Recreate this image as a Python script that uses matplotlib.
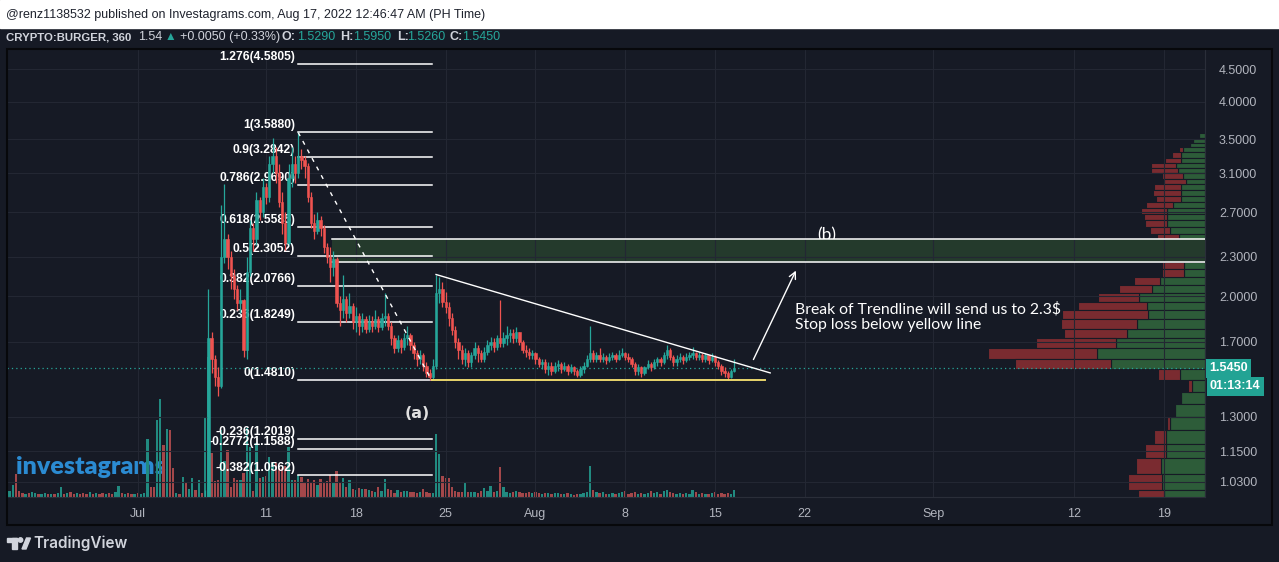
"""
plot.py - CRYPTO:BURGER 6h chart (TradingView style) with fib levels,
volume, visible-range volume profile and trade idea annotations.
"""

import numpy as np
import matplotlib
matplotlib.use("Agg")
import matplotlib.pyplot as plt
from matplotlib import transforms
from matplotlib.patches import Rectangle, Circle, Polygon
from matplotlib.ticker import NullLocator


# ──────────────────────────────────────────────
# Data (time axis = days since Jul 1, 6h candles)
# ──────────────────────────────────────────────
price_start = 5.25
first_open = 0.93
closes = [0.96, 1.72, 1.60, 1.50, 1.45, 2.30, 2.45, 2.30, 2.15, 2.05,
          1.95, 1.97, 1.65, 2.18, 2.55, 2.45, 2.82, 2.70, 2.95, 2.85,
          3.20, 3.30, 3.10, 2.80, 2.60, 2.42, 3.05, 3.20, 3.10, 3.30,
          3.25, 3.18, 2.85, 2.60, 2.52, 2.62, 2.55, 2.38, 2.30, 2.22,
          2.28, 1.95, 1.90, 1.98, 1.88, 1.93, 1.82, 1.86, 1.80, 1.84,
          1.78, 1.83, 1.80, 1.84, 1.79, 1.85, 1.86, 1.80, 1.72, 1.66,
          1.71, 1.67, 1.72, 1.74, 1.68, 1.63, 1.60, 1.62, 1.56, 1.52,
          1.50, 1.56, 2.02, 2.05, 1.96, 1.92, 1.85, 1.77, 1.70, 1.65,
          1.60, 1.63, 1.58, 1.62, 1.66, 1.63, 1.60, 1.64, 1.68, 1.70,
          1.67, 1.72, 1.69, 1.72, 1.74, 1.75, 1.72, 1.76, 1.70, 1.65,
          1.64, 1.62, 1.63, 1.60, 1.57, 1.58, 1.54, 1.56, 1.53, 1.56,
          1.57, 1.54, 1.56, 1.53, 1.55, 1.53, 1.51, 1.54, 1.56, 1.60,
          1.63, 1.60, 1.62, 1.60, 1.61, 1.59, 1.61, 1.62, 1.60, 1.62,
          1.63, 1.61, 1.60, 1.57, 1.53, 1.55, 1.52, 1.55, 1.57, 1.55,
          1.58, 1.60, 1.58, 1.62, 1.65, 1.61, 1.58, 1.60, 1.61, 1.59,
          1.61, 1.62, 1.63, 1.61, 1.62, 1.60, 1.62, 1.59, 1.61, 1.58,
          1.56, 1.53, 1.52, 1.50, 1.529, 1.545]
highs = [1.00, 2.05, 1.76, 1.62, 1.55, 2.77, 2.98, 2.50, 2.35, 2.20,
         2.08, 2.05, 1.98, 2.30, 2.62, 2.60, 2.90, 2.85, 3.05, 3.00,
         3.30, 3.52, 3.40, 3.20, 2.90, 2.70, 3.20, 3.40, 3.30, 3.588,
         3.38, 3.30, 3.22, 2.90, 2.68, 2.70, 2.66, 2.58, 2.42, 2.38,
         2.35, 2.30, 2.00, 2.16, 2.00, 2.02, 1.95, 1.92, 1.88, 1.88,
         1.86, 1.87, 1.86, 1.90, 1.86, 1.88, 2.02, 1.88, 1.82, 1.74,
         1.74, 1.72, 1.75, 1.80, 1.75, 1.70, 1.65, 1.65, 1.63, 1.58,
         1.54, 1.60, 2.16, 2.14, 2.10, 2.03, 1.96, 1.88, 1.80, 1.72,
         1.68, 1.66, 1.65, 1.64, 1.70, 1.68, 1.65, 1.67, 1.71, 1.73,
         1.72, 1.74, 1.97, 1.76, 1.80, 1.78, 1.78, 1.79, 1.76, 1.71,
         1.68, 1.66, 1.65, 1.64, 1.61, 1.60, 1.60, 1.58, 1.58, 1.58,
         1.59, 1.58, 1.58, 1.57, 1.57, 1.56, 1.54, 1.56, 1.58, 1.62,
         1.80, 1.65, 1.64, 1.66, 1.63, 1.62, 1.63, 1.64, 1.63, 1.65,
         1.66, 1.64, 1.63, 1.61, 1.58, 1.57, 1.56, 1.56, 1.59, 1.58,
         1.60, 1.61, 1.61, 1.64, 1.68, 1.66, 1.62, 1.62, 1.63, 1.62,
         1.63, 1.64, 1.67, 1.64, 1.64, 1.63, 1.63, 1.62, 1.63, 1.62,
         1.59, 1.57, 1.55, 1.53, 1.54, 1.595]
lows = [0.90, 0.95, 1.52, 1.45, 1.40, 1.44, 2.25, 2.20, 2.05, 1.98,
        1.90, 1.88, 1.61, 1.60, 2.15, 2.35, 2.40, 2.62, 2.65, 2.78,
        2.80, 3.10, 3.00, 2.75, 2.50, 2.36, 2.40, 2.95, 3.00, 3.05,
        3.15, 3.05, 2.80, 2.55, 2.45, 2.50, 2.48, 2.33, 2.25, 2.10,
        2.15, 1.92, 1.80, 1.85, 1.82, 1.85, 1.78, 1.76, 1.74, 1.76,
        1.75, 1.76, 1.76, 1.78, 1.76, 1.77, 1.80, 1.77, 1.68, 1.63,
        1.64, 1.63, 1.65, 1.68, 1.65, 1.60, 1.56, 1.57, 1.53, 1.50,
        1.481, 1.481, 1.54, 1.95, 1.92, 1.88, 1.80, 1.74, 1.66, 1.60,
        1.57, 1.56, 1.55, 1.55, 1.60, 1.58, 1.58, 1.58, 1.62, 1.65,
        1.64, 1.65, 1.67, 1.67, 1.68, 1.70, 1.69, 1.70, 1.68, 1.63,
        1.61, 1.60, 1.60, 1.57, 1.55, 1.54, 1.52, 1.51, 1.51, 1.52,
        1.53, 1.52, 1.53, 1.51, 1.52, 1.51, 1.50, 1.50, 1.52, 1.55,
        1.58, 1.58, 1.58, 1.58, 1.58, 1.57, 1.58, 1.59, 1.58, 1.59,
        1.61, 1.59, 1.58, 1.55, 1.51, 1.51, 1.50, 1.51, 1.54, 1.53,
        1.54, 1.56, 1.56, 1.57, 1.60, 1.59, 1.56, 1.56, 1.58, 1.57,
        1.58, 1.59, 1.60, 1.59, 1.59, 1.58, 1.58, 1.57, 1.58, 1.56,
        1.54, 1.51, 1.50, 1.48, 1.49, 1.526]

vol_start = -10.25
volume = [4, 6, 12, 23, 6, 4, 3, 4, 5, 4,
          3, 3, 4, 3, 3, 3, 4, 10, 3, 4,
          5, 3, 4, 3, 4, 3, 5, 3, 4, 3,
          4, 3, 4, 3, 5, 11, 4, 3, 4, 3,
          3, 4, 3, 4, 58, 10, 10, 77, 98, 52,
          68, 67, 29, 4, 3, 20, 14, 8, 19, 7,
          17, 4,
          80, 140, 44, 16, 17, 67, 36, 47, 10, 19,
          17, 17, 24, 69, 50, 6, 54, 19, 20, 21,
          40, 34, 34, 29, 29, 31, 50, 17, 17, 22,
          20, 15, 18, 14, 17, 12, 18, 14, 16, 22,
          15, 26, 14, 19, 10, 17, 8, 7, 9, 8,
          8, 7, 6, 5, 10, 6, 18, 8, 7, 4,
          7, 5, 6, 6, 5, 5, 4, 5, 8, 5,
          4, 4, 63, 43, 21, 19, 19, 10, 6, 5,
          5, 15, 5, 5, 5, 4, 6, 9, 6, 11,
          5, 6, 30, 10, 5, 4, 5, 6, 5, 4,
          4, 5, 4, 5, 4, 3, 4, 4, 3, 4,
          4, 3, 3, 4, 3, 2, 3, 3, 4, 5,
          31, 7, 5, 4, 5, 3, 3, 4, 3, 4,
          5, 6, 3, 4, 5, 3, 4, 3, 4, 6,
          4, 5, 3, 6, 7, 5, 4, 3, 4, 3,
          4, 3, 7, 5, 3, 4, 3, 3, 4, 5,
          3, 4, 3, 4, 3, 7]
# direction of the early candles (price below the visible range)
early_up = [1, 1, 1, 0, 0, 0, 1, 0, 1, 1, 0, 1, 1, 0, 1, 0, 1, 1, 0, 1,
            0, 0, 1, 0, 0, 0, 1, 0, 1, 0, 0, 1, 0, 0, 1, 1, 0, 1, 0, 0,
            1, 0, 1, 1, 1, 0, 0, 1, 1, 0, 1, 0, 0, 1, 0, 1, 0, 1, 1, 0,
            1, 0]

# visible range volume profile, rows from the top (3.58) downwards
vp_top = 3.58
vp_step = 0.06
vp_up = [6, 12, 15, 22, 24, 24, 29, 27, 22, 19,
         24, 24, 24, 32, 38, 38, 38, 35, 26, 26,
         29, 24, 21, 21, 45, 53, 66, 58, 57, 68,
         78, 89, 108, 94, 25, 13, 24, 30, 35, 39,
         39, 44, 43, 41]
vp_down = [0, 0, 0, 4, 9, 16, 25, 27, 21, 22,
           27, 28, 25, 27, 26, 23, 22, 20, 22, 26,
           29, 31, 22, 22, 26, 33, 41, 69, 86, 76,
           63, 80, 109, 96, 22, 4, 0, 0, 3, 12,
           21, 25, 34, 26]

# fibonacci retracement
fib_ratios = ["1.276", "1", "0.9", "0.786", "0.618", "0.5", "0.382",
              "0.236", "0", "-0.236", "-0.2772", "-0.382"]
fib_prices = [4.5805, 3.5880, 3.2842, 2.9690, 2.5585, 2.3052, 2.0766,
              1.8249, 1.4810, 1.2019, 1.1588, 1.0562]
fib_days = [12.5, 22.9]

trend_days = [23.25, 49.3]
trend_prices = [2.16, 1.52]
yellow_days = [22.9, 48.9]
yellow_price = 1.481
zone_day = 15.1
zone_prices = [2.26, 2.455]
arrow_days = [47.9, 51.4]
arrow_prices = [1.58, 2.21]

last_price = 1.545
price_ticks = [4.5, 4.0, 3.5, 3.1, 2.7, 2.3, 2.0, 1.7, 1.3, 1.15, 1.03]
date_ticks = [0, 10, 17, 24, 31, 38, 45, 52, 62, 73, 80]
date_labels = ["Jul", "11", "18", "25", "Aug", "8", "15", "22", "Sep", "12", "19"]


# ──────────────────────────────────────────────
# Style
# ──────────────────────────────────────────────
W, H = 1279, 562
BG = "#161a25"
GRID = "#232733"
TEAL = "#26a69a"
RED = "#ef5350"
TEAL_VOL = "#218a80"
RED_VOL = "#a3474a"
VP_GREEN = "#2d5c39"
VP_RED = "#7a2b30"
AXIS_TXT = "#b2b5be"
SANS = ["Liberation Sans", "DejaVu Sans"]
HUMAN = ["Lato", "DejaVu Sans"]

fig = plt.figure(figsize=(W / 100, H / 100), dpi=100)
fig.patch.set_facecolor(BG)
# pixel transform with origin in the top-left corner
pix = transforms.Affine2D().scale(1 / W, -1 / H).translate(0, 1) + fig.transFigure

fig.add_artist(Rectangle((0, 0), W, 28, transform=pix, color="white", zorder=0))
fig.text(6, 15, "@renz1138532 published on Investagrams.com, Aug 17, 2022 12:46:47 AM (PH Time)",
         transform=pix, fontsize=9, family=SANS, color="#1e222d", va="center")

# symbol info line
info = [(6, "CRYPTO:BURGER, 360", "#d1d4dc", "bold", 8.2), (138, "1.54", "#d1d4dc", "normal", 9),
        (165, "\u25b2", TEAL, "normal", 8.5), (180, "+0.0050 (+0.33%)", "#d1d4dc", "normal", 9),
        (282, "O:", "#d1d4dc", "bold", 9), (297, "1.5290", TEAL, "normal", 9),
        (340, "H:", "#d1d4dc", "bold", 9), (353, "1.5950", TEAL, "normal", 9),
        (397, "L:", "#d1d4dc", "bold", 9), (407, "1.5260", TEAL, "normal", 9),
        (450, "C:", "#d1d4dc", "bold", 9), (462, "1.5450", TEAL, "normal", 9)]
for x, s, c, w, fs in info:
    fig.text(x, 37, s, transform=pix, fontsize=fs, family=SANS, color=c,
             fontweight=w, va="center")

# ──────────────────────────────────────────────
# Axes: volume (bottom), profile (middle), price (top)
# ──────────────────────────────────────────────
rect = [7 / W, 1 - 497 / H, 1198 / W, 447 / H]
ax = fig.add_axes(rect)
ax_v = ax.twinx()
ax_p = ax.twiny()
ax_v.set_zorder(1)
ax_p.set_zorder(2)
ax.set_zorder(3)
ax_v.set_facecolor(BG)
ax.patch.set_visible(False)
ax_p.patch.set_visible(False)

ax.set_yscale("log")
ax.set_ylim(0.9758, 4.816)
ax.set_xlim(-10.2, 83.2)

# volume
n = len(closes)
opens = [first_open] + closes[:-1]
up = [c >= o for o, c in zip(opens, closes)]
vol_dir = list(early_up) + [int(u) for u in up]
t_vol = vol_start + 0.25 * np.arange(len(volume))
ax_v.bar(t_vol, volume, width=0.18, color=[TEAL_VOL if d else RED_VOL for d in vol_dir],
         linewidth=0, zorder=2)
ax_v.set_ylim(0, 447)
ax_v.text(16, 467, "investagrams", transform=pix, fontsize=18, family=HUMAN,
          fontweight="heavy", color="#2b8bd2", va="center", zorder=1)

# volume profile (bars grow leftwards from the price scale)
rows = np.arange(len(vp_up))
centers = vp_top - vp_step * (rows + 0.5)
ax_p.barh(centers, vp_up, height=vp_step, left=0, color=VP_GREEN,
          edgecolor=BG, linewidth=0.8)
ax_p.barh(centers, vp_down, height=vp_step, left=vp_up, color=VP_RED,
          edgecolor=BG, linewidth=0.8)
ax_p.set_xlim(1198, 0)

# candles
t_c = price_start + 0.25 * np.arange(n)
colors = [TEAL if u else RED for u in up]
body_lo = np.minimum(opens, closes)
body_hi = np.maximum(opens, closes)
ax.vlines(t_c, lows, highs, colors=colors, lw=0.9, zorder=3)
ax.bar(t_c, body_hi - body_lo, bottom=body_lo, width=0.18, color=colors,
       edgecolor=colors, linewidth=0.4, zorder=3.1)

# fibonacci levels
for r, p in zip(fib_ratios, fib_prices):
    ax.plot(fib_days, [p, p], color="white", lw=1.1, zorder=2.5)
    ax.annotate(f"{r}({p:.4f})", xy=(fib_days[0], p), xytext=(-3, 7),
                textcoords="offset pixels", ha="right", va="center",
                fontsize=8.7, family=SANS, fontweight="bold", color="white", zorder=2)
ax.plot(fib_days, [fib_prices[1], fib_prices[8]], color="white", lw=1,
        ls=(0, (3, 4)), zorder=4)

# target zone (label sits partly behind the box, as in the original)
ax.text(53.7, 2.48, "(b)", fontsize=12.5, family=HUMAN, color="white",
        ha="center", va="center", zorder=1.4)
ax.fill_between([zone_day, 90], zone_prices[0], zone_prices[1], color="#243a2c", lw=0, zorder=1.5)
for p in zone_prices:
    ax.plot([zone_day, 90], [p, p], color="white", lw=1.1, zorder=2.6)

# trendline, stop line and arrow
ax.plot(trend_days, trend_prices, color="white", lw=1, zorder=4)
ax.plot(yellow_days, [yellow_price, yellow_price], color="#e9d66b", lw=1.4, zorder=4)
ax.annotate("", xy=(arrow_days[1], arrow_prices[1]), xytext=(arrow_days[0], arrow_prices[0]),
            arrowprops=dict(arrowstyle="->", color="white", lw=1, mutation_scale=12), zorder=4)
ax.text(21.76, 1.313, "(a)", fontsize=11.5, family="DejaVu Sans", fontweight="bold",
        color="#e0e0e0", ha="center", va="center", zorder=4)
ax.text(51.25, 1.856, "Break of Trendline will send us to 2.3$\nStop loss below yellow line",
        fontsize=11.3, family=HUMAN, color="white", va="center",
        linespacing=1.05, zorder=5)

# last price line and tags
ax.axhline(last_price, color=TEAL, lw=0.9, ls=(0, (1, 2.5)), zorder=2.7)
blend = transforms.blended_transform_factory(ax.transAxes, ax.transData)
ax.annotate(f"{last_price:.4f}", xy=(1.0, last_price), xycoords=blend, xytext=(4, 0),
            textcoords="offset pixels", ha="left", va="center", fontsize=9, family=SANS,
            fontweight="bold", color="white", annotation_clip=False,
            bbox=dict(boxstyle="square,pad=0.28", fc="#22a394", ec="none"))
ax.annotate("01:13:14", xy=(1.0, last_price), xycoords=blend, xytext=(5, -18),
            textcoords="offset pixels", ha="left", va="center", fontsize=9, family=SANS,
            fontweight="bold", color="white", annotation_clip=False,
            bbox=dict(boxstyle="square,pad=0.28", fc="#22a394", ec="none"))

# axes cosmetics (twins share locators, so hide their axes instead of clearing ticks)
ax.yaxis.tick_right()
ax.set_yticks(price_ticks)
ax.set_yticklabels([f"{p:.4f}" for p in price_ticks])
ax.yaxis.set_minor_locator(NullLocator())
ax.set_xticks(date_ticks)
ax.set_xticklabels(date_labels)
ax.tick_params(axis="y", length=0, pad=10, labelsize=9, labelcolor=AXIS_TXT)
ax.tick_params(axis="x", length=0, pad=8, labelsize=9, labelcolor=AXIS_TXT)
for lab in ax.get_xticklabels() + ax.get_yticklabels():
    lab.set_family(SANS)
ax.grid(True, color=GRID, lw=0.8)
for name, sp in ax.spines.items():
    sp.set_visible(name in ("right", "bottom"))
    sp.set_color("#2a2e39")
for a in (ax_v, ax_p):
    a.xaxis.set_visible(False)
    a.yaxis.set_visible(False)
    for sp in a.spines.values():
        sp.set_visible(False)

# pane border and footer logo
fig.add_artist(Rectangle((7, 49), 1265, 476, transform=pix, fill=False,
                         ec="#07080b", lw=1.5, zorder=10))
fig.add_artist(Rectangle((7, 538), 10, 4, transform=pix, color="#d1d4dc", zorder=10))
fig.add_artist(Rectangle((12, 538), 5, 11, transform=pix, color="#d1d4dc", zorder=10))
fig.add_artist(Circle((20.5, 540), 2.2, transform=pix, color="#d1d4dc", zorder=10))
fig.add_artist(Polygon([(22, 549), (26.5, 538), (30.5, 538), (26, 549)], transform=pix,
                       color="#d1d4dc", zorder=10))
fig.text(33, 543.5, "TradingView", transform=pix, fontsize=11,
         family=["Inter", "DejaVu Sans"], fontweight="semibold", color="#d1d4dc", va="center")

fig.savefig("out.png", dpi=100, facecolor=BG)
